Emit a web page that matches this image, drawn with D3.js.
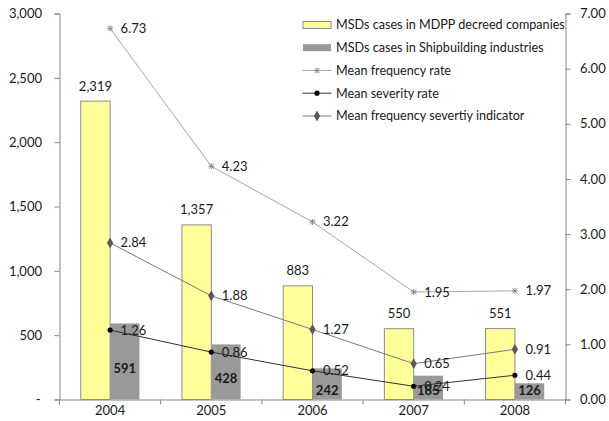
<!DOCTYPE html>
<html><head><meta charset="utf-8">
<script src="https://cdn.jsdelivr.net/npm/d3@7"></script>
<style>
body{margin:0;background:#fff}
svg{display:block}
text{font-family:Lato,"Open Sans",sans-serif;font-size:13px;fill:#1a1a1a}
</style>
</head><body><svg width="609" height="421"></svg>
<script>
const years = ["2004","2005","2006","2007","2008"];
const mdppCases = [2319,1357,883,550,551];
const shipCases = [591,428,242,185,126];
const freqRate = [6.73,4.23,3.22,1.95,1.97];
const sevRate = [1.26,0.86,0.52,0.24,0.44];
const fsiRate = [2.84,1.88,1.27,0.65,0.91];
const leftTicks = [0,500,1000,1500,2000,2500,3000];
const rightTicks = [0,1,2,3,4,5,6,7];
const legendLabels = ["MSDs cases in MDPP decreed companies","MSDs cases in Shipbuilding industries","Mean frequency rate","Mean severity rate","Mean frequency severtiy indicator"];

const svg = d3.select("svg");
const L=59.5, R=565.5, T=13.5, B=399.5;
const x = d3.scaleBand().domain(years).range([L,R]);
const yL = d3.scaleLinear().domain([0,3000]).range([B,T]);
const yR = d3.scaleLinear().domain([0,7]).range([B,T]);
const axisCol = "#868686";
const yellow = "#FFFF99", grayBar = "#999999";
const cx = d => x(d) + x.bandwidth()/2;
const barW = x.bandwidth()*0.29;

// left axis
const gL = svg.append("g").attr("transform",`translate(${L},0)`)
  .call(d3.axisLeft(yL).tickValues(leftTicks).tickSize(5).tickPadding(12.5)
    .tickFormat(d => d===0 ? "-" : d3.format(",")(d)));
gL.selectAll("text").attr("x", d => d===0 ? -19 : -17.5);
// right axis
const gR = svg.append("g").attr("transform",`translate(${R},0)`)
  .call(d3.axisRight(yR).tickValues(rightTicks).tickSize(5).tickPadding(9.5).tickFormat(d3.format(".2f")));
// bottom axis
const gB = svg.append("g").attr("transform",`translate(0,${B})`)
  .call(d3.axisBottom(x).tickSize(0).tickSizeOuter(0).tickPadding(6));
[gL,gR,gB].forEach(g=>{
  g.selectAll("path.domain").attr("stroke",axisCol);
  g.selectAll("line").attr("stroke",axisCol);
  g.selectAll("text").style("font-family","Lato,'Open Sans',sans-serif").style("font-size","13px").attr("fill","#1a1a1a");
});
gB.selectAll("text").attr("dy","0.71em");
// category boundary ticks
const edges = years.map(d=>x(d)).concat([R]);
svg.append("g").selectAll("line").data(edges).join("line")
  .attr("x1",d=>d).attr("x2",d=>d).attr("y1",B).attr("y2",B+5).attr("stroke",axisCol);

// bars
svg.append("g").selectAll("rect").data(years).join("rect")
  .attr("x",(d)=>cx(d)-barW).attr("width",barW)
  .attr("y",(d,i)=>yL(mdppCases[i])).attr("height",(d,i)=>B-yL(mdppCases[i]))
  .attr("fill",yellow).attr("stroke","#8c8c8c").attr("stroke-width",1);
svg.append("g").selectAll("rect").data(years).join("rect")
  .attr("x",(d)=>cx(d)).attr("width",barW)
  .attr("y",(d,i)=>yL(shipCases[i])).attr("height",(d,i)=>B-yL(shipCases[i]))
  .attr("fill",grayBar);

// bar labels
svg.append("g").selectAll("text").data(years).join("text")
  .attr("x",d=>cx(d)-barW/2).attr("y",(d,i)=>yL(mdppCases[i])-15).attr("dy","0.35em")
  .attr("text-anchor","middle").text((d,i)=>d3.format(",")(mdppCases[i]));
svg.append("g").selectAll("text").data(years).join("text")
  .attr("x",d=>cx(d)+barW/2).attr("y",(d,i)=>Math.min((yL(shipCases[i])+B)/2+6.5,390)).attr("dy","0.35em")
  .attr("text-anchor","middle").style("font-weight","bold").attr("fill","#000").text((d,i)=>shipCases[i]);

// lines
const series = [
  {vals:freqRate, line:"#a6a6a6", mark:"#8c8c8c", type:"star"},
  {vals:sevRate, line:"#333333", mark:"#000000", type:"circle"},
  {vals:fsiRate, line:"#7a7a7a", mark:"#595959", type:"diamond"}
];
function drawMarker(g, type, col){
  if(type==="star"){
    g.append("path").attr("d","M-2.5,-2.5L2.5,2.5M-2.5,2.5L2.5,-2.5M0,-3L0,3M-3,0L3,0")
      .attr("stroke",col).attr("stroke-width",1).attr("fill","none");
  } else if(type==="circle"){
    g.append("circle").attr("r",2.6).attr("fill",col);
  } else {
    g.append("path").attr("d",d3.symbol(d3.symbolDiamond,34)()).attr("fill",col);
  }
}
series.forEach(s=>{
  const lg = d3.line().x((d,i)=>cx(years[i])).y(d=>yR(d));
  svg.append("path").datum(s.vals).attr("d",lg).attr("fill","none").attr("stroke",s.line).attr("stroke-width",1);
  s.vals.forEach((v,i)=>{
    const g = svg.append("g").attr("transform",`translate(${cx(years[i])},${yR(v)})`);
    drawMarker(g,s.type,s.mark);
  });
  svg.append("g").selectAll("text").data(s.vals).join("text")
    .attr("x",(d,i)=>cx(years[i])+10.5).attr("y",d=>yR(d)).attr("dy","0.35em")
    .text(d=>d3.format(".2f")(d));
});

// legend
const lgY = [25,47.7,70.5,93.2,116];
const lgG = svg.append("g");
legendLabels.forEach((lab,i)=>{
  const y = lgY[i];
  if(i<2){
    lgG.append("rect").attr("x",303).attr("y",y-3.5).attr("width",28).attr("height",7)
      .attr("fill", i===0?yellow:grayBar).attr("stroke", i===0?"#8c8c8c":"none");
  } else {
    const s = series[i-2];
    lgG.append("line").attr("x1",302.5).attr("x2",331.5).attr("y1",y).attr("y2",y).attr("stroke",s.line);
    drawMarker(lgG.append("g").attr("transform",`translate(317,${y})`), s.type, s.mark);
  }
  lgG.append("text").attr("x",336).attr("y",y).attr("dy","0.35em").style("font-size","12.6px").text(lab);
});
</script>
</body></html>
